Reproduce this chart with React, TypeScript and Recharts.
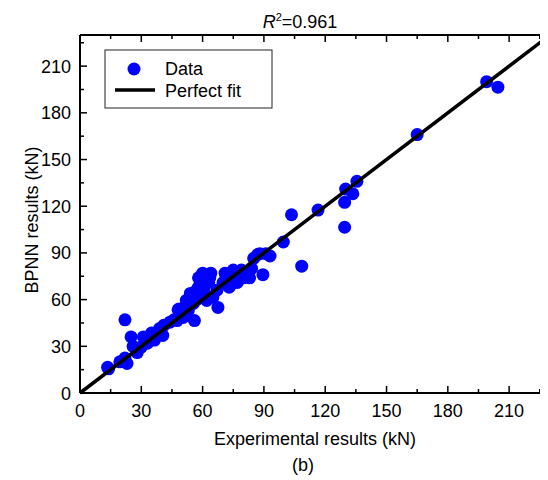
import React from 'react';
import { ScatterChart, Scatter, XAxis, YAxis } from 'recharts';

// Experimental vs predicted (BPNN) values, kN
const expValues = [
  14, 13.5, 19.5, 22, 23, 22, 25, 28, 30, 31, 33, 35, 36.5, 39, 40.5, 41, 44, 46, 47.5, 48,
  48.5, 50.5, 52, 53, 54, 54, 55.5, 56, 56.5, 57, 58, 58, 59, 60, 61, 62, 63, 63.5, 64, 65,
  67, 67.5, 70, 71, 72, 73, 74, 75, 76, 77, 79, 80, 82, 83, 84, 85, 87, 88, 89.5, 91,
  93, 99.5, 103.5, 108.5, 116.5, 129.5, 129.5, 130, 133.5, 135.5, 165, 199, 204.5, 60.5, 57, 26,
];
const bpnnValues = [
  15.5, 16.5, 20, 22.5, 19, 47, 36, 26, 29.5, 36, 32, 38.5, 34, 41.5, 37, 43.5, 45.5, 47, 46.5, 53.5,
  54, 48.5, 59.5, 53, 61.5, 64, 57.5, 46.5, 63, 66, 68, 74, 72, 77, 76, 59.5, 71, 74, 77, 61.5,
  66, 55, 71, 77, 74, 68, 70, 79, 73, 71, 79, 74, 78, 74, 80, 86.5, 89, 89.5, 76, 89.5,
  88, 97, 114.5, 81.5, 117.5, 106.5, 122.5, 131, 128, 136, 166, 200, 196.5, 66, 60, 30,
];
const fitX = [0, 230];
const axisTicks = [0, 15, 30, 45, 60, 75, 90, 105, 120, 135, 150, 165, 180, 195, 210, 225];

const points = expValues.map((x, i) => ({ x, y: bpnnValues[i] }));
const fitLine = fitX.map(v => ({ x: v, y: v }));

const FONT = 'Liberation Sans, Arial, sans-serif';

const BottomTick = (props: any) => {
  const { x, y, payload } = props;
  const major = payload.value % 30 === 0;
  return (
    <g>
      <line x1={x} x2={x} y1={y} y2={y - (major ? 7 : 4)} stroke="#000" strokeWidth={1.5} />
      {major && (
        <text x={x} y={y + 24} textAnchor="middle" fontSize={18} fontFamily={FONT} fill="#000">
          {payload.value}
        </text>
      )}
    </g>
  );
};

const TopTick = (props: any) => {
  const { x, y, payload } = props;
  const major = payload.value % 30 === 0;
  return <line x1={x} x2={x} y1={y} y2={y + (major ? 7 : 4)} stroke="#000" strokeWidth={1.5} />;
};

const LeftTick = (props: any) => {
  const { x, y, payload } = props;
  const major = payload.value % 30 === 0;
  return (
    <g>
      <line x1={x} x2={x + (major ? 7 : 4)} y1={y} y2={y} stroke="#000" strokeWidth={1.5} />
      {major && (
        <text x={x - 9} y={y + 6.5} textAnchor="end" fontSize={18} fontFamily={FONT} fill="#000">
          {payload.value}
        </text>
      )}
    </g>
  );
};

const Dot = (props: any) => <circle cx={props.cx} cy={props.cy} r={6.5} fill="#0000FF" />;
const NoDot = () => <g />;

export default function App() {
  return (
    <div style={{ position: 'relative', width: 540, height: 472, overflow: 'hidden', background: '#fff' }}>
      <ScatterChart width={550} height={472} margin={{ top: 26, right: 8, bottom: 0, left: 0 }}>
        <XAxis
          type="number"
          dataKey="x"
          domain={[0, 230]}
          ticks={axisTicks}
          height={87}
          tickSize={0}
          tickMargin={0}
          tickLine={false}
          tick={BottomTick}
          interval={0}
          axisLine={{ stroke: '#000', strokeWidth: 2 }}
        />
        <XAxis
          xAxisId="top"
          orientation="top"
          type="number"
          dataKey="x"
          domain={[0, 230]}
          ticks={axisTicks}
          height={1}
          tickSize={0}
          tickMargin={0}
          tickLine={false}
          tick={TopTick}
          interval={0}
          axisLine={{ stroke: '#000', strokeWidth: 2 }}
        />
        <YAxis
          type="number"
          dataKey="y"
          domain={[0, 230]}
          ticks={axisTicks}
          width={72}
          tickSize={0}
          tickMargin={0}
          tickLine={false}
          tick={LeftTick}
          interval={0}
          axisLine={{ stroke: '#000', strokeWidth: 2 }}
        />
        <Scatter data={points} shape={Dot} isAnimationActive={false} />
        <Scatter
          xAxisId="top"
          data={fitLine}
          shape={NoDot}
          line={{ stroke: '#000', strokeWidth: 3.5 }}
          isAnimationActive={false}
        />
      </ScatterChart>
      <svg
        width={540}
        height={472}
        style={{ position: 'absolute', left: 0, top: 0, pointerEvents: 'none' }}
        fontFamily={FONT}
      >
        <text x={292} y={20} textAnchor="middle" fontSize={18} fill="#000">
          <tspan fontStyle="italic">R</tspan>
          <tspan fontSize={11} dy={-7}>2</tspan>
          <tspan dy={7}>=0.961</tspan>
        </text>
        <text x={307} y={437} textAnchor="middle" fontSize={18} fill="#000">
          Experimental results (kN)
        </text>
        <text x={295} y={463} textAnchor="middle" fontSize={18} fill="#000">
          (b)
        </text>
        <text x={30} y={212} textAnchor="middle" fontSize={18} fill="#000" transform="rotate(-90, 30, 212)">
          BPNN results (kN)
        </text>
        <rect x={97} y={42} width={167} height={58} fill="#fff" stroke="#222" strokeWidth={1} />
        <circle cx={126} cy={61} r={6.5} fill="#0000FF" />
        <text x={157} y={67} fontSize={18} fill="#000">Data</text>
        <line x1={107} x2={147} y1={82} y2={82} stroke="#000" strokeWidth={3.5} />
        <text x={157} y={89} fontSize={18} fill="#000">Perfect fit</text>
      </svg>
    </div>
  );
}
